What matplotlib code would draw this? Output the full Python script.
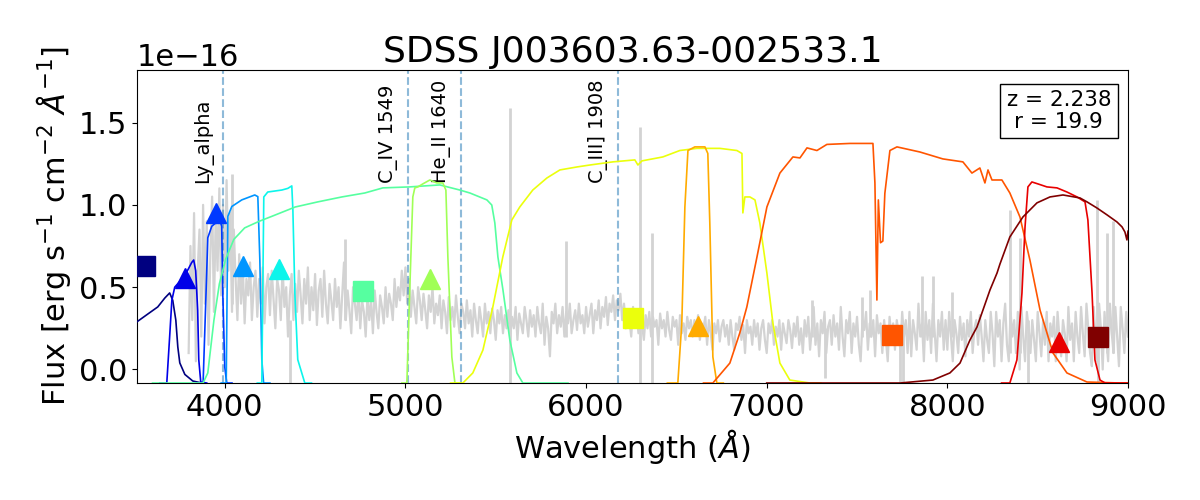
import numpy as np
import matplotlib
matplotlib.use('Agg')
import matplotlib.pyplot as plt

# object info
title = 'SDSS J003603.63-002533.1'
redshift = 2.238
rmag = 19.9

spec_flux = [
    0.1, 0.75, 0.3, 0.95, 0.05, 0.6, 0.85, 0.2, 1.0, 0.4, 0.9, 0.15, 0.7, 1.05, 0.35, 0.95, 0.6, 1.1, 0.45, 1.0,
    0.5, 1.15, 0.6, 0.95, 0.35, 0.85, 0.55, 0.3, 0.7, 0.4, 0.62, 0.28, 0.55, 0.45, 0.65, 0.3, 0.5, 0.6, 0.32, 0.55,
    0.4, 0.62, 0.28, 0.5, 0.58, 0.33, 0.6, 0.42, 0.25, 0.55, 0.48, 0.3, 0.62, 0.38, 0.5, 0.2, 0.45, 0.58, 0.3, 0.52,
    0.35, 0.6, 0.45, 0.28, 0.55, 0.4, 0.62, 0.3, 0.5, 0.36, 0.58, 0.27, 0.48, 0.55, 0.32, 0.6, 0.4, 0.28, 0.52, 0.42,
    0.3, 0.55, 0.38, 0.5, 0.25, 0.45, 0.65, 0.3, 0.48, 0.36, 0.22, 0.5, 0.4, 0.3, 0.48, 0.25, 0.42, 0.35, 0.2, 0.45,
    0.3, 0.42, 0.22, 0.48, 0.35, 0.25, 0.45, 0.38, 0.28, 0.5, 0.32, 0.46, 0.4, 0.3, 0.55, 0.38, 0.5, 0.42, 0.6, 0.45,
    0.62, 0.4, 0.55, 0.32, 0.48, 0.38, 0.28, 0.5, 0.42, 0.3, 0.46, 0.36, 0.25, 0.45, 0.35, 0.5, 0.28, 0.4, 0.33, 0.45,
    0.25, 0.42, 0.35, 0.22, 0.44, 0.3, 0.38, 0.26, 0.45, 0.32, 0.22, 0.4, 0.35, 0.25, 0.42, 0.28, 0.36, 0.2, 0.4, 0.3,
    0.22, 0.38, 0.3, 0.2, 0.4, 0.28, 0.35, 0.22, 0.37, 0.3, 0.18, 0.36, 0.28, 0.38, 0.22, 0.33, 0.25, 0.36, 0.2, 0.32,
    0.25, 0.38, 0.18, 0.34, 0.28, 0.22, 0.38, 0.3, 0.2, 0.36, 0.26, 0.33, 0.2, 0.38, 0.28, 0.22, 0.4, 0.15, 0.32, 0.25,
    0.08, 0.35, 0.28, 0.4, 0.22, 0.33, 0.26, 0.38, 0.2, 0.35, 0.28, 0.4, 0.22, 0.3, 0.36, 0.24, 0.4, 0.28, 0.33, 0.22,
    0.38, 0.26, 0.33, 0.4, 0.22, 0.36, 0.3, 0.42, 0.25, 0.38, 0.32, 0.44, 0.27, 0.4, 0.35, 0.45, 0.3, 0.42, 0.36, 0.46,
    0.3, 0.4, 0.25, 0.36, 0.3, 0.2, 0.38, 0.28, 0.34, 0.22, 0.36, 0.27, 0.18, 0.33, 0.25, 0.35, 0.2, 0.32, 0.26, 0.3,
    0.15, 0.34, 0.25, 0.3, 0.2, 0.35, 0.24, 0.18, 0.32, 0.26, 0.3, 0.15, 0.33, 0.22, 0.28, 0.18, 0.32, 0.25, 0.3, 0.2,
    0.3, 0.22, 0.33, 0.18, 0.28, 0.25, 0.32, 0.15, 0.3, 0.22, 0.12, 0.28, 0.22, 0.3, 0.17, 0.26, 0.3, 0.2, 0.27, 0.15,
    0.3, 0.2, 0.12, 0.28, 0.24, 0.32, 0.18, 0.27, 0.1, 0.3, 0.22, 0.26, 0.15, 0.3, 0.2, 0.28, 0.12, 0.25, 0.3, 0.18,
    0.1, 0.28, 0.22, 0.3, 0.15, 0.26, 0.2, 0.3, 0.12, 0.28, 0.22, 0.16, 0.3, 0.24, 0.13, 0.28, 0.2, 0.32, 0.15, 0.25,
    0.1, 0.3, 0.2, 0.32, 0.12, 0.25, 0.38, 0.15, 0.28, 0.08, 0.3, 0.22, 0.35, 0.1, 0.26, 0.3, 0.15, 0.33, 0.2, 0.28,
    0.12, 0.38, 0.2, 0.08, 0.3, 0.22, 0.35, 0.1, 0.28, 0.2, 0.32, 0.15, 0.05, 0.3, 0.24, 0.35, 0.12, 0.28, 0.2, 0.3,
    0.08, 0.33, 0.22, 0.28, 0.1, 0.3, 0.18, 0.05, 0.32, 0.2, 0.28, 0.12, 0.3, 0.22, 0.12, 0.35, 0.2, 0.3, 0.1, 0.35,
    0.08, 0.3, 0.22, 0.12, 0.4, 0.2, 0.28, 0.05, 0.35, 0.18, 0.3, 0.1, 0.4, 0.22, 0.05, 0.3, 0.2, 0.35, 0.12, 0.3,
    0.12, 0.35, 0.2, 0.05, 0.3, 0.22, 0.1, 0.32, 0.18, 0.28, 0.08, 0.3, 0.2, 0.35, 0.1, 0.25, 0.3, 0.15, 0.33, 0.2,
    0.05, 0.3, 0.18, 0.1, 0.35, 0.22, 0.02, 0.35, 0.2, 0.3, 0.05, 0.28, 0.4, 0.15, 0.05, 0.35, 0.2, 0.3, 0.1, 0.35,
    0.0, 0.38, 0.2, 0.05, 0.35, 0.25, 0.1, 0.3, 0.18, 0.05, 0.35, 0.22, 0.08, 0.3, 0.15, 0.35, 0.05, 0.28, 0.2, 0.32,
    0.05, 0.35, 0.2, 0.08, 0.3, 0.22, 0.05, 0.38, 0.18, 0.28, 0.05, 0.35, 0.2, 0.1, 0.38, 0.22, 0.08, 0.4, 0.25, 0.1,
    0.02, 0.38, 0.2, 0.05, 0.4, 0.25, 0.0, 0.35, 0.18, 0.05, 0.4, 0.22, 0.1, 0.38, 0.2, 0.02, 0.38, 0.25, 0.1, 0.35,
    0.2,
]
spec_wave = 3800 + 10 * np.arange(len(spec_flux))

# sky lines / spikes in the spectrum
spike_wave = [4039, 4360, 4664, 5577, 5890, 6300, 6364, 7250, 7322, 7527,
              7571, 7740, 7755, 7859, 7920, 8025, 8346, 8400, 8446, 8828,
              8834, 8884, 8917]
spike_low = [0.4, -0.09, 0.3, -0.09, 0.2, -0.09, -0.09, 0.2, -0.05, 0.2,
             0.2, -0.09, -0.09, 0.2, 0.2, 0.2, 0.1, 0.1, -0.09, 0.1,
             -0.09, 0.1, 0.1]
spike_high = [1.19, 0.3, 0.79, 1.59, 0.78, 1.47, 0.83, 0.42, 0.25, 0.44,
              0.48, 0.25, 0.25, 0.57, 0.57, 0.47, 0.97, 0.8, 0.3, 1.03,
              0.3, 0.83, 0.9]

# emission lines
line_names = ['Ly_alpha', 'C_IV 1549', 'He_II 1640', 'C_III] 1908']
line_rest = [1232, 1549, 1640, 1908]

# S-PLUS photometry
filt_names = ['uJAVA', 'J0378', 'J0395', 'J0410', 'J0430', 'gSDSS',
              'J0515', 'rSDSS', 'J0660', 'iSDSS', 'J0861', 'zSDSS']
filt_wave = [3557, 3780, 3949, 4101, 4301, 4764, 5137, 6261, 6621, 7695, 8616, 8836]
filt_flux = [0.626, 0.556, 0.95, 0.629, 0.61, 0.477, 0.547, 0.313, 0.267, 0.21, 0.17, 0.2]
broad_band = [True, False, False, False, False, True, False, True, False, True, False, True]

# filter transmission curves, scaled into flux units
u_wave = [3480, 3513, 3574, 3629, 3668, 3695, 3712, 3729, 3740, 3751, 3779, 3823, 3873]
u_curve = [0.24, 0.289, 0.337, 0.38, 0.434, 0.465, 0.42, 0.30, 0.137, 0.04, -0.03, -0.07, -0.082]
j0378_wave = [3640, 3679, 3696, 3707, 3723, 3779, 3817, 3828, 3839, 3850, 3856, 3867, 3900]
j0378_curve = [-0.082, -0.082, 0.22, 0.42, 0.50, 0.57, 0.65, 0.665, 0.60, 0.36, 0.06, -0.076, -0.082]
j0395_wave = [3850, 3880, 3895, 3906, 3928, 3972, 3983, 3989, 4000, 4011, 4040]
j0395_curve = [-0.082, -0.082, 0.42, 0.80, 0.87, 0.91, 0.87, 0.46, 0.015, -0.082, -0.082]
j0410_wave = [3980, 4008, 4017, 4039, 4094, 4166, 4183, 4194, 4205, 4215, 4250]
j0410_curve = [-0.082, -0.082, 0.93, 0.99, 1.03, 1.06, 1.05, 0.67, 0.06, -0.082, -0.082]
j0430_wave = [4180, 4205, 4216, 4238, 4316, 4349, 4371, 4377, 4388, 4404, 4443, 4480]
j0430_curve = [-0.082, -0.082, 1.048, 1.078, 1.09, 1.10, 1.115, 0.97, 0.46, 0.06, -0.082, -0.082]
g_wave = [3600, 3880, 3906, 3940, 3970, 4005, 4050, 4110, 4190, 4260, 4390, 4515, 4648,
          4775, 4875, 5024, 5190, 5301, 5357, 5451, 5478, 5495, 5512, 5540, 5578, 5617, 5650, 5900]
g_curve = [-0.082, -0.082, -0.021, 0.3, 0.52, 0.67, 0.79, 0.86, 0.9, 0.93, 0.987, 1.018, 1.048,
           1.072, 1.103, 1.109, 1.121, 1.09, 1.072, 1.03, 0.999, 0.89, 0.683, 0.483, 0.179, -0.021, -0.082, -0.082]
j0515_wave = [4980, 5008, 5024, 5041, 5052, 5069, 5096, 5135, 5174, 5207, 5224, 5235, 5257, 5274, 5300]
j0515_curve = [-0.082, -0.082, 0.483, 1.048, 1.103, 1.109, 1.127, 1.151, 1.133, 1.133, 1.09, 0.683, 0.076, -0.082, -0.082]
r_wave = [5250, 5318, 5373, 5429, 5484, 5539, 5589, 5633, 5705, 5783, 5855, 5949, 6021, 6148,
          6270, 6287, 6309, 6425, 6519, 6613, 6741, 6835, 6863, 6868, 6879, 6907, 6935, 6962,
          7001, 7034, 7073, 7128, 7239, 7300]
r_curve = [-0.082, -0.082, -0.021, 0.118, 0.38, 0.683, 0.908, 0.987, 1.09, 1.163, 1.212, 1.23, 1.242, 1.261,
           1.273, 1.242, 1.267, 1.291, 1.33, 1.343, 1.343, 1.33, 1.312, 0.951, 1.048, 1.048, 1.03, 0.89,
           0.586, 0.283, 0.039, -0.064, -0.082, -0.082]
j0660_wave = [6450, 6508, 6530, 6547, 6564, 6602, 6658, 6674, 6685, 6702, 6724, 6760]
j0660_curve = [-0.082, -0.082, 0.283, 0.987, 1.33, 1.352, 1.352, 1.312, 0.89, 0.076, -0.082, -0.082]
i_wave = [6650, 6702, 6796, 6851, 6890, 6946, 7001, 7073, 7145, 7184, 7223, 7278, 7333, 7461,
          7588, 7599, 7610, 7618, 7630, 7643, 7654, 7682, 7721, 7848, 7975, 8086, 8136, 8180,
          8208, 8225, 8247, 8275, 8302, 8346, 8402, 8457, 8513, 8585, 8662, 8773, 8956, 9050]
i_curve = [-0.082, -0.082, 0.039, 0.222, 0.38, 0.683, 0.987, 1.193, 1.291, 1.285, 1.346, 1.33, 1.367, 1.373,
           1.373, 1.133, 0.422, 1.03, 0.77, 0.78, 1.07, 1.33, 1.352, 1.321, 1.279, 1.261, 1.193, 1.224,
           1.133, 1.212, 1.151, 1.151, 1.151, 1.072, 0.926, 0.665, 0.361, 0.1, -0.021, -0.076, -0.082, -0.082]
j0861_wave = [8300, 8346, 8385, 8413, 8430, 8446, 8468, 8502, 8551, 8607, 8662, 8718, 8762, 8778,
              8801, 8817, 8845, 8873, 9050]
j0861_curve = [-0.082, -0.082, 0.058, 0.465, 0.866, 1.109, 1.139, 1.127, 1.109, 1.103, 1.078, 1.048, 1.018, 0.908,
               0.465, 0.058, -0.064, -0.082, -0.082]
z_wave = [7000, 7739, 7920, 8014, 8070, 8125, 8164, 8197, 8236, 8275, 8291, 8346, 8418, 8496,
          8568, 8640, 8734, 8773, 8828, 8884, 8939, 8967, 8983, 8994, 9000]
z_curve = [-0.082, -0.082, -0.064, -0.021, 0.039, 0.179, 0.258, 0.361, 0.483, 0.586, 0.64, 0.805, 0.926, 1.012,
           1.048, 1.06, 1.042, 1.018, 0.981, 0.939, 0.896, 0.866, 0.835, 0.787, 0.84]

curves = [(u_wave, u_curve), (j0378_wave, j0378_curve), (j0395_wave, j0395_curve),
          (j0410_wave, j0410_curve), (j0430_wave, j0430_curve), (g_wave, g_curve),
          (j0515_wave, j0515_curve), (r_wave, r_curve), (j0660_wave, j0660_curve),
          (i_wave, i_curve), (j0861_wave, j0861_curve), (z_wave, z_curve)]

scale = 1e-16
colors = plt.cm.jet(np.linspace(0, 1, len(filt_names)))

fig = plt.figure(figsize=(12, 5), dpi=100)
ax = fig.add_axes([0.114, 0.234, 0.826, 0.626])

ax.plot(spec_wave, np.array(spec_flux) * scale, color='lightgray', lw=1.6, zorder=1)
ax.vlines(spike_wave, np.array(spike_low) * scale, np.array(spike_high) * scale,
          color='lightgray', lw=2, zorder=1)

for name, rest in zip(line_names, line_rest):
    obs = rest * (1 + redshift)
    ax.axvline(obs, color='C0', ls='--', lw=1.5, alpha=0.5, zorder=2)
    ax.text(obs - 110, 1.13 * scale, name, rotation=90, ha='center', va='bottom', fontsize=14)

for (w, c), col in zip(curves, colors):
    ax.plot(w, np.array(c) * scale, color=col, lw=1.2, zorder=3)

for w, f, bb, col in zip(filt_wave, filt_flux, broad_band, colors):
    ax.plot(w, f * scale, marker='s' if bb else '^', ms=14.5, color=col, ls='none', zorder=4)

ax.text(0.983, 0.935, f'z = {redshift}\nr = {rmag}', transform=ax.transAxes,
        ha='right', va='top', fontsize=15.5, multialignment='center', linespacing=1.1,
        bbox=dict(boxstyle='square,pad=0.3', facecolor='white', edgecolor='black'))

ax.set_xlim(3513, 9000)
ax.set_ylim(-0.082 * scale, 1.819 * scale)
ax.set_yticks(np.array([0.0, 0.5, 1.0, 1.5]) * scale)
ax.tick_params(labelsize=22)
ax.yaxis.get_offset_text().set_fontsize(22)
ax.set_xlabel(r'Wavelength ($\AA$)', fontsize=22)
ax.set_ylabel(r'Flux [erg s$^{-1}$ cm$^{-2}$ $\AA^{-1}$]', fontsize=22)
ax.set_title(title, fontsize=26)

plt.savefig('out.png', dpi=100)
plt.close()
